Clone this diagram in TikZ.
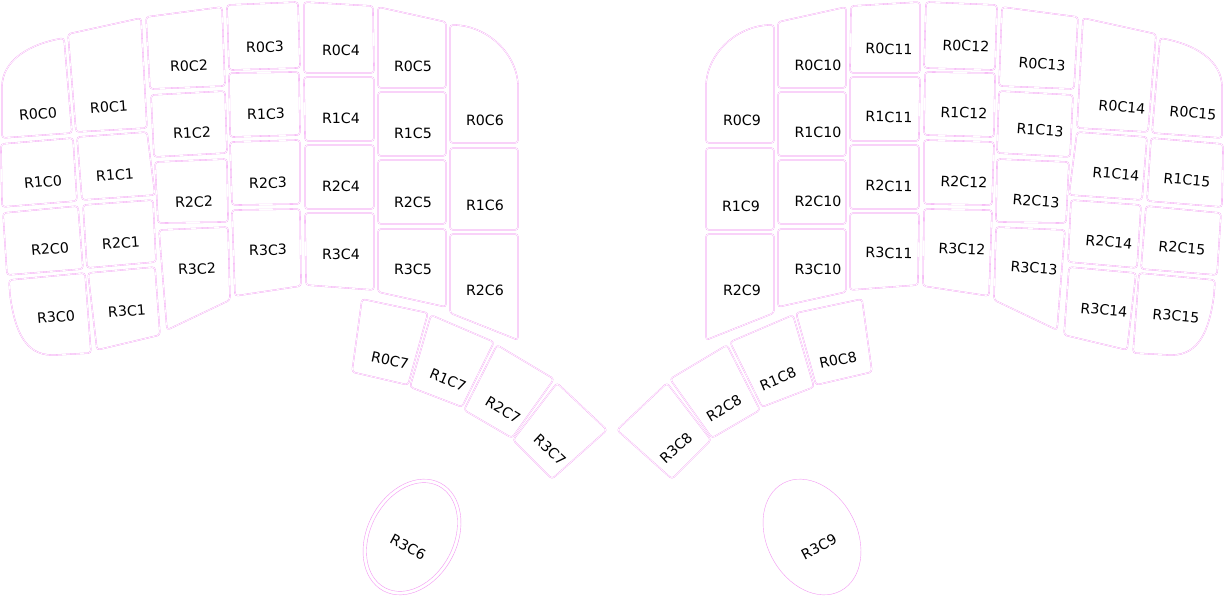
\documentclass[tikz,border=0pt]{standalone}
\usepackage{fontspec}
\setmainfont{DejaVu Sans}
\definecolor{keyline}{RGB}{242,150,242}
\tikzset{
  key/.style={draw=keyline, line width=0.3pt, double=white, double distance=0.7pt, rounded corners=3pt},
  thumb/.style={draw=keyline, line width=0.4pt},
  lbl/.style={inner sep=0pt, font=\fontsize{14.2}{16}\selectfont}
}
% outline of the left hand, in pixel units
\newcommand{\lefthand}{
  \draw[key] (2,138) -- (2,90) .. controls (2,60) and (30,44) .. (64,38) -- (72,133) -- cycle;
  \draw[key] (68,34) -- (141,18) -- (147,128) -- (76,132) -- cycle;
  \draw[key] (146,17) -- (222,7) -- (225,86) -- (150,89) -- cycle;
  \draw[key] (227,5) -- (298,2) -- (300,68) -- (229,70) -- cycle;
  \draw[key] (304,2) -- (373,6) -- (374,73) -- (304,73) -- cycle;
  \draw[key] (378,7) -- (446,22) -- (446,88) -- (378,88) -- cycle;
  \draw[key] (450,25) .. controls (487,25) and (518,54) .. (518,90) -- (518,143) -- (450,143) -- cycle;

  \draw[key] (1,144) -- (73,138) -- (77,201) -- (2,207) -- cycle;
  \draw[key] (77,137) -- (147,132) -- (155,195) -- (82,200) -- cycle;
  \draw[key] (151,95) -- (225,91) -- (227,153) -- (154,157) -- cycle;
  \draw[key] (229,73) -- (299,72) -- (300,135) -- (230,137) -- cycle;
  \draw[key] (304,77) -- (374,77) -- (374,141) -- (305,141) -- cycle;
  \draw[key] (378,92) -- (446,92) -- (446,156) -- (378,156) -- cycle;
  \draw[key] (450,148) -- (518,148) -- (518,230) -- (450,230) -- cycle;

  \draw[key] (3,213) -- (78,206) -- (83,269) -- (7,275) -- cycle;
  \draw[key] (83,205) -- (153,200) -- (156,262) -- (87,268) -- cycle;
  \draw[key] (155,162) -- (227,159) -- (228,222) -- (158,223) -- cycle;
  \draw[key] (230,142) -- (300,140) -- (300,204) -- (232,205) -- cycle;
  \draw[key] (305,145) -- (374,145) -- (374,209) -- (305,209) -- cycle;
  \draw[key] (378,160) -- (446,160) -- (446,224) -- (378,224) -- cycle;
  \draw[key] (450,234) -- (518,234) -- (518,340) -- (450,313) -- cycle;

  \draw[key] (9,280) -- (85,273) -- (91,353) -- (55,355) .. controls (25,355) and (15,330) .. (10,295) -- cycle;
  \draw[key] (88,273) -- (155,267) -- (160,335) -- (97,350) -- cycle;
  \draw[key] (159,230) -- (228,227) -- (230,300) -- (167,330) -- cycle;
  \draw[key] (232,210) -- (300,209) -- (301,286) -- (235,296) -- cycle;
  \draw[key] (305,213) -- (374,213) -- (374,290) -- (306,285) -- cycle;
  \draw[key] (378,229) -- (446,229) -- (446,307) -- (378,292) -- cycle;

  \draw[key] (362,299) -- (428,313) -- (408,385) -- (352,372) -- cycle;
  \draw[key] (431,315) -- (494,342) -- (462,407) -- (410,387) -- cycle;
  \draw[key] (497,345) -- (554,379) -- (512,438) -- (464,410) -- cycle;
  \draw[key] (557,383) -- (607,430) -- (552,479) -- (513,440) -- cycle;

  \draw[thumb, rotate around={-28:(412,537)}] (412,537) ellipse [x radius=45, y radius=61];
}
\begin{document}
\begin{tikzpicture}[x=1pt, y=-1pt]
    \useasboundingbox (0,0) rectangle (1224,596);

    % Outlines
    \lefthand
    \draw[thumb, rotate around={-28:(412,537)}] (412,537) ellipse [x radius=41.5, y radius=57.5];
    \begin{scope}[xshift=1224pt, xscale=-1]
      \lefthand
    \end{scope}

    % Left hand
    \node[lbl, rotate=5] at (38,114) (r0c0) {R0C0};
    \node[lbl, rotate=4] at (109,107) (r0c1) {R0C1};
    \node[lbl, rotate=2.5] at (189,66) (r0c2) {R0C2};
    \node[lbl, rotate=1] at (265,47) (r0c3) {R0C3};
    \node[lbl] at (341,50) (r0c4) {R0C4};
    \node[lbl] at (413,66) (r0c5) {R0C5};
    \node[lbl] at (485,120) (r0c6) {R0C6};

    \node[lbl, rotate=5] at (43,182) (r1c0) {R1C0};
    \node[lbl, rotate=4] at (115,175) (r1c1) {R1C1};
    \node[lbl, rotate=2.5] at (192,133) (r1c2) {R1C2};
    \node[lbl, rotate=1] at (266,114) (r1c3) {R1C3};
    \node[lbl] at (341,118) (r1c4) {R1C4};
    \node[lbl] at (413,133) (r1c5) {R1C5};
    \node[lbl] at (485,205) (r1c6) {R1C6};

    \node[lbl, rotate=5] at (50,249) (r2c0) {R2C0};
    \node[lbl, rotate=4] at (121,243) (r2c1) {R2C1};
    \node[lbl, rotate=2.5] at (194,202) (r2c2) {R2C2};
    \node[lbl, rotate=1] at (268,183) (r2c3) {R2C3};
    \node[lbl] at (341,186) (r2c4) {R2C4};
    \node[lbl] at (413,202) (r2c5) {R2C5};
    \node[lbl] at (485,290) (r2c6) {R2C6};

    \node[lbl, rotate=5] at (56,317) (r3c0) {R3C0};
    \node[lbl, rotate=4] at (127,311) (r3c1) {R3C1};
    \node[lbl, rotate=2.5] at (197,269) (r3c2) {R3C2};
    \node[lbl, rotate=1] at (268,250) (r3c3) {R3C3};
    \node[lbl] at (341,254) (r3c4) {R3C4};
    \node[lbl] at (413,269) (r3c5) {R3C5};

    \node[lbl, rotate=-12] at (390,360) (r0c7) {R0C7};
    \node[lbl, rotate=-23] at (448,380) (r1c7) {R1C7};
    \node[lbl, rotate=-31] at (503,410) (r2c7) {R2C7};
    \node[lbl, rotate=-43] at (550,450) (r3c7) {R3C7};
    \node[lbl, rotate=-28] at (408,547) (r3c6) {R3C6};

    % Right hand
    \node[lbl] at (742,120) (r0c9) {R0C9};
    \node[lbl] at (818,65) (r0c10) {R0C10};
    \node[lbl, rotate=-1] at (889,49) (r0c11) {R0C11};
    \node[lbl, rotate=-2.5] at (966,46) (r0c12) {R0C12};
    \node[lbl, rotate=-4] at (1042,64) (r0c13) {R0C13};
    \node[lbl, rotate=-5] at (1122,107) (r0c14) {R0C14};
    \node[lbl, rotate=-5] at (1193,113) (r0c15) {R0C15};

    \node[lbl] at (741,206) (r1c9) {R1C9};
    \node[lbl] at (818,132) (r1c10) {R1C10};
    \node[lbl, rotate=-1] at (889,117) (r1c11) {R1C11};
    \node[lbl, rotate=-2.5] at (964,113) (r1c12) {R1C12};
    \node[lbl, rotate=-4] at (1040,130) (r1c13) {R1C13};
    \node[lbl, rotate=-5] at (1116,174) (r1c14) {R1C14};
    \node[lbl, rotate=-5] at (1187,180) (r1c15) {R1C15};

    \node[lbl] at (742,290) (r2c9) {R2C9};
    \node[lbl] at (818,201) (r2c10) {R2C10};
    \node[lbl, rotate=-1] at (889,186) (r2c11) {R2C11};
    \node[lbl, rotate=-2.5] at (964,182) (r2c12) {R2C12};
    \node[lbl, rotate=-4] at (1036,201) (r2c13) {R2C13};
    \node[lbl, rotate=-5] at (1109,242) (r2c14) {R2C14};
    \node[lbl, rotate=-5] at (1182,248) (r2c15) {R2C15};

    \node[lbl] at (818,269) (r3c10) {R3C10};
    \node[lbl, rotate=-1] at (889,253) (r3c11) {R3C11};
    \node[lbl, rotate=-2.5] at (962,249) (r3c12) {R3C12};
    \node[lbl, rotate=-4] at (1034,268) (r3c13) {R3C13};
    \node[lbl, rotate=-5] at (1104,310) (r3c14) {R3C14};
    \node[lbl, rotate=-5] at (1176,316) (r3c15) {R3C15};

    \node[lbl, rotate=12] at (838,360) (r0c8) {R0C8};
    \node[lbl, rotate=23] at (778,379) (r1c8) {R1C8};
    \node[lbl, rotate=31] at (724,408) (r2c8) {R2C8};
    \node[lbl, rotate=43] at (676,448) (r3c8) {R3C8};
    \node[lbl, rotate=28] at (819,547) (r3c9) {R3C9};
  \end{tikzpicture}
\end{document}
